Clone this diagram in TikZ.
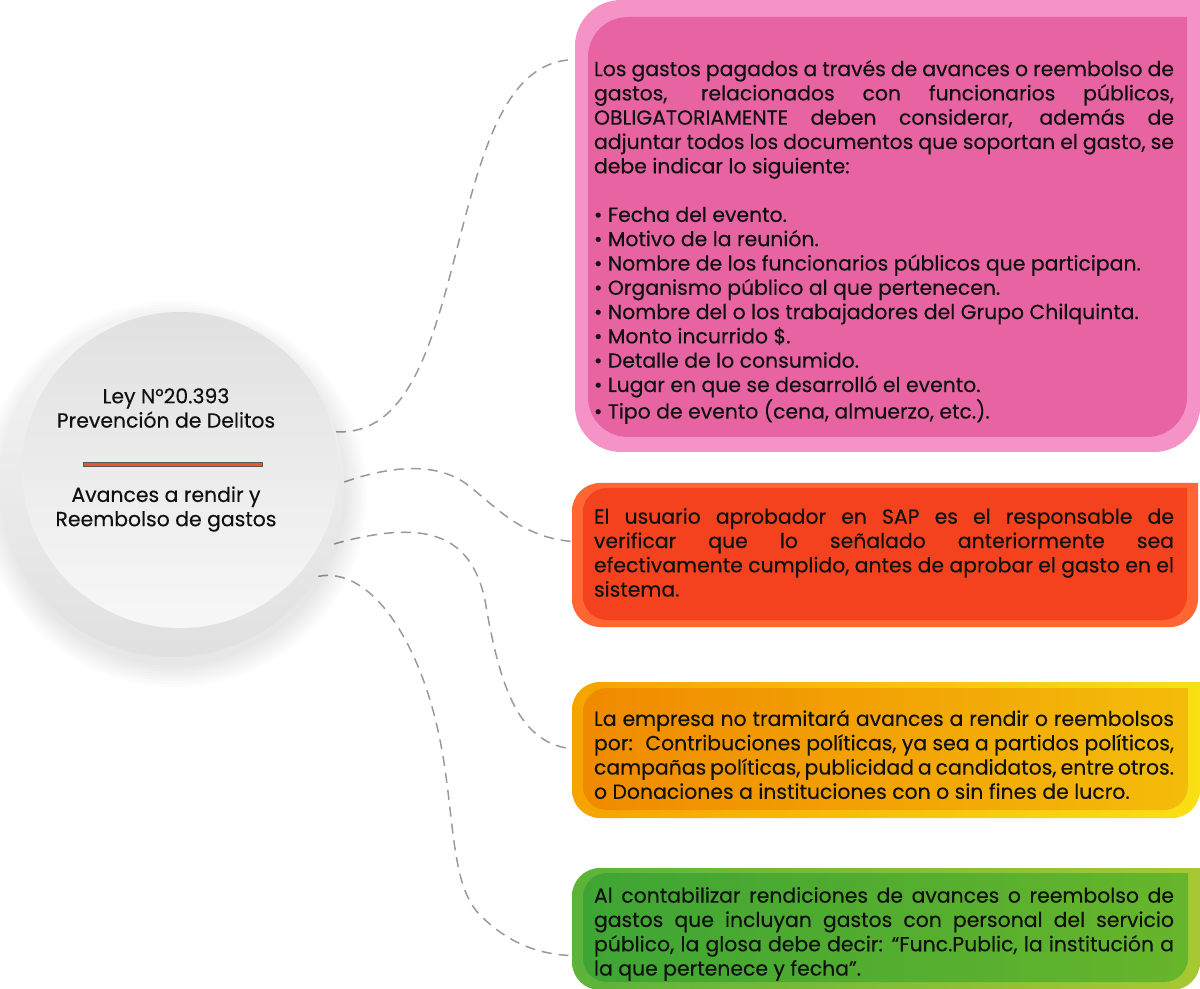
\documentclass[tikz,border=0pt]{standalone}
\usepackage{fontspec}
\setmainfont{Poppins}[FakeBold=0.35]
\usetikzlibrary{calc}
\definecolor{ink}{HTML}{111111}
\definecolor{wire}{HTML}{9A9A9A}
\definecolor{pinklt}{HTML}{F592C6}
\definecolor{pinkdk}{HTML}{E863A2}
\definecolor{redlt}{HTML}{FF6633}
\definecolor{reddk}{HTML}{F4421F}
\definecolor{amberlt}{HTML}{F5A300}
\definecolor{yellowlt}{HTML}{FADF14}
\definecolor{amberdk}{HTML}{F08A00}
\definecolor{yellowdk}{HTML}{F4BC0A}
\definecolor{greenlt}{HTML}{5CB33A}
\definecolor{limelt}{HTML}{A7C832}
\definecolor{greendk}{HTML}{3EA534}
\definecolor{limedk}{HTML}{67B52B}
\definecolor{barred}{HTML}{EE5527}
\pgfdeclarelayer{paper}
\pgfdeclarelayer{wires}
\pgfdeclarelayer{back}
\pgfsetlayers{paper,wires,back,main}
% card frame: x1, y1, x2, y2, radius (px), left colour, right colour
\newcommand{\cardframe}[7]{%
  \shade[left color=#6,right color=#7,rounded corners=0.5*#5pt]
    (#1,#2) rectangle (#3,#4) [sharp corners] (#3-#5,#2) rectangle (#3,#2+#5);}

\begin{document}
\begin{tikzpicture}[x=0.5pt,y=-0.5pt,
    every node/.style={font=\fontsize{10.2}{12.15}\selectfont,text=ink},
    card/.style={text width=290pt,align=justify,inner xsep=9.5pt,inner ysep=0pt},
    wire/.style={draw=wire,line width=0.75pt,dash pattern=on 5pt off 3.5pt}]
  \useasboundingbox (0,0) rectangle (1200,989);
  \begin{pgfonlayer}{paper}
    \fill[white] (0,0) rectangle (1200,989);
  \end{pgfonlayer}

  % hub
  \node[circle,minimum size=172pt,inner sep=0pt] (hub) at (172,485) {};
  \node[align=center] (title) at (166,460)
    {Ley N°20.393\\Prevención de Delitos\\[25pt]Avances a rendir y\\Reembolso de gastos};
  \fill[barred,draw=black!65,line width=0.4pt] (83,462) rectangle (262,466);

  % cards
  \node[card] (b1) at (884,242) {%
    Los gastos pagados a través de avances o reembolso de\linebreak
    gastos, relacionados con funcionarios públicos,\linebreak
    OBLIGATORIAMENTE deben considerar, además de\linebreak
    adjuntar todos los documentos que soportan el gasto, se\linebreak
    debe indicar lo siguiente:\\[12.15pt]
    • Fecha del evento.\\
    • Motivo de la reunión.\\
    • Nombre de los funcionarios públicos que participan.\\
    • Organismo público al que pertenecen.\\
    • Nombre del o los trabajadores del Grupo Chilquinta.\\
    • Monto incurrido \$.\\
    • Detalle de lo consumido.\\
    • Lugar en que se desarrolló el evento.\\
    • Tipo de evento (cena, almuerzo, etc.).};
  \node[card] (b2) at (884,552.5) {%
    El usuario aprobador en SAP es el responsable de\linebreak
    verificar que lo señalado anteriormente sea\linebreak
    efectivamente cumplido, antes de aprobar el gasto en el\linebreak
    sistema.};
  \node[card] (b3) at (884,754.5) {%
    La empresa no tramitará avances a rendir o reembolsos\linebreak
    por:~ Contribuciones políticas, ya sea a partidos políticos,\linebreak
    campañas políticas, publicidad a candidatos, entre otros.\linebreak
    o Donaciones a instituciones con o sin fines de lucro.};
  \node[card] (b4) at (884,934) {%
    Al contabilizar rendiciones de avances o reembolso de\linebreak
    gastos que incluyan gastos con personal del servicio\linebreak
    público, la glosa debe decir: “Func.Public, la institución a\linebreak
    la que pertenece y fecha”.};

  \begin{pgfonlayer}{back}
    \foreach \k in {0,...,7}
      \fill[black,opacity=0.01] (174,494) circle[radius=86pt+\k*1.5pt];
    \shade[top color=black!4,bottom color=black!12] (hub.center) circle[radius=86pt];
    \shade[top color=black!12,bottom color=black!3] (180,470) circle[radius=79pt];
    \cardframe{575}{0}{1200}{452}{46}{pinklt}{pinklt}
    \cardframe{588}{17}{1187}{437}{40}{pinkdk}{pinkdk}
    \cardframe{572}{483}{1198}{627}{28}{redlt}{redlt}
    \cardframe{583}{488}{1187}{620}{24}{reddk}{reddk}
    \cardframe{572}{682}{1200}{818}{28}{amberlt}{yellowlt}
    \cardframe{583}{688}{1188}{810}{24}{amberdk}{yellowdk}
    \cardframe{572}{868}{1200}{990}{28}{greenlt}{limelt}
    \cardframe{583}{873}{1188}{982}{24}{greendk}{limedk}
  \end{pgfonlayer}

  \begin{pgfonlayer}{wires}
    \draw[wire] (hub.18) .. controls (480,440) and (435,60) .. (b1.north west);
    \draw[wire] (hub.1) .. controls (390,466) and (435,462) .. (465,483)
      .. controls (495,505) and (520,538) .. (b2.178);
    \draw[wire] (hub.-20) .. controls (420,520) and (470,530) .. (485,600)
      .. controls (500,690) and (520,745) .. (b3.179);
    \draw[wire] (hub.-32) .. controls (370,566) and (420,640) .. (440,740)
      .. controls (455,815) and (450,885) .. (480,915)
      .. controls (505,940) and (535,955) .. (b4.184);
  \end{pgfonlayer}
\end{tikzpicture}
\end{document}
